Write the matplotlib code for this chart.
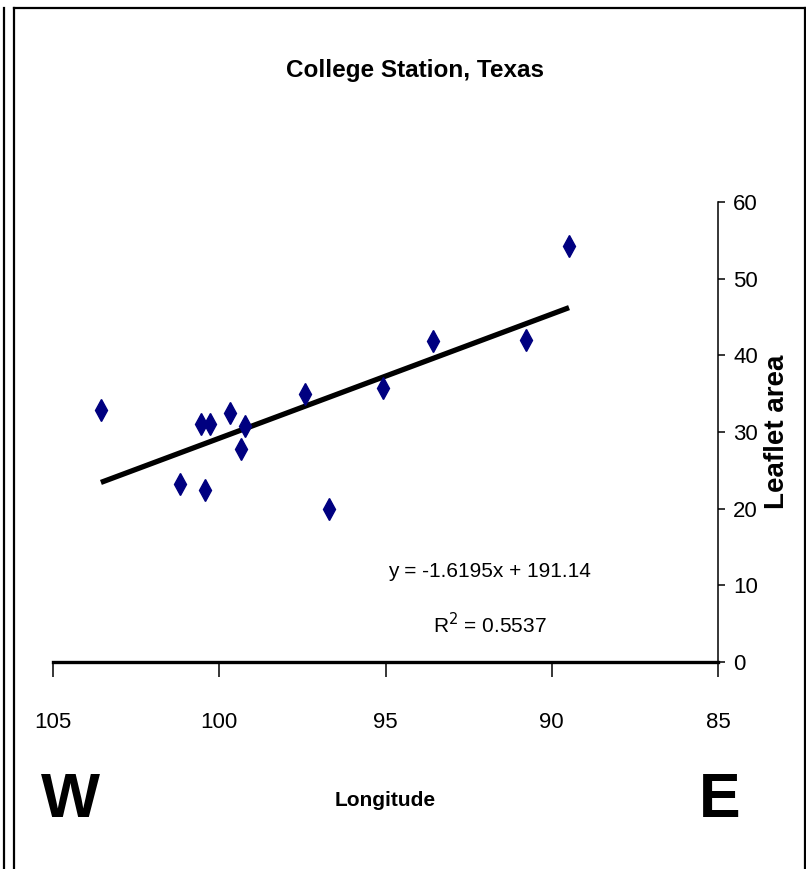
import numpy as np
import matplotlib
matplotlib.use("Agg")
from matplotlib import pyplot as plt
from matplotlib.lines import Line2D

# longitude (deg W) and leaflet area of each site
longitude = [103.56, 101.18, 100.55, 100.43, 100.28, 99.68, 99.35, 99.23,
             97.42, 96.70, 95.08, 93.57, 90.77, 89.48]
leaflet = [32.9, 23.2, 31.0, 22.4, 31.0, 32.5, 27.8, 30.8,
           35.0, 20.0, 35.7, 41.9, 42.0, 54.3]

# linear trend as printed on the chart
slope = -1.6195
intercept = 191.14
r2 = 0.5537

xticks = [105, 100, 95, 90, 85]
yticks = [0, 10, 20, 30, 40, 50, 60]

font = ['Liberation Sans', 'DejaVu Sans']

fig = plt.figure(figsize=(8.06, 8.69), dpi=100)
ax = fig.add_axes([0.0658, 0.2382, 0.825, 0.5293])

xs = np.sort(np.array(longitude))
ax.plot(xs, intercept + slope * xs, color='black', lw=3.8, solid_capstyle='butt', zorder=2)
ax.plot(longitude, leaflet, ls='none', marker='d', ms=11, color='#000080',
        markeredgecolor='#000080', zorder=3)

ax.set_xlim(105, 85)
ax.set_ylim(0, 60)
ax.set_xticks(xticks)
ax.set_yticks(yticks)
ax.set_xticklabels([str(t) for t in xticks], family=font, fontsize=16)
ax.set_yticklabels([str(t) for t in yticks], family=font, fontsize=16)
ax.yaxis.tick_right()
ax.tick_params(axis='x', direction='out', length=11, width=1.1, pad=25)
ax.tick_params(axis='y', direction='out', length=5, width=1.1, pad=6)

ax.spines['left'].set_visible(False)
ax.spines['top'].set_visible(False)
ax.spines['bottom'].set_linewidth(2.4)
ax.spines['right'].set_linewidth(1.1)

ax.text(0.607, 0.342, f"y = {slope}x + {intercept}", transform=fig.transFigure,
        ha='center', va='center', family=font, fontsize=15)
ax.text(0.608, 0.281, "R$^2$ = " + str(r2), transform=fig.transFigure,
        ha='center', va='center', family=font, fontsize=15)

fig.text(0.515, 0.919, "College Station, Texas", ha='center', va='center',
         family=font, fontsize=17.5, fontweight='bold')
fig.text(0.964, 0.503, "Leaflet area", ha='center', va='center', rotation=90,
         family=font, fontsize=20, fontweight='bold')
fig.text(0.478, 0.079, "Longitude", ha='center', va='center',
         family=font, fontsize=15, fontweight='bold')
fig.text(0.088, 0.079, "W", ha='center', va='center', family=font,
         fontsize=45, fontweight='bold')
fig.text(0.893, 0.079, "E", ha='center', va='center', family=font,
         fontsize=45, fontweight='bold')

# panel frame and edge of the neighbouring panel
W, H = 806.0, 869.0
frame = [((14, 869), (14, 8)), ((14, 8), (805, 8)), ((805, 8), (805, 869)),
         ((4, 869), (4, 8))]
for (x0, y0), (x1, y1) in frame:
    fig.add_artist(Line2D([x0 / W, x1 / W], [1 - y0 / H, 1 - y1 / H],
                          transform=fig.transFigure, color='black', lw=1.6))

fig.savefig("out.png", dpi=100)
